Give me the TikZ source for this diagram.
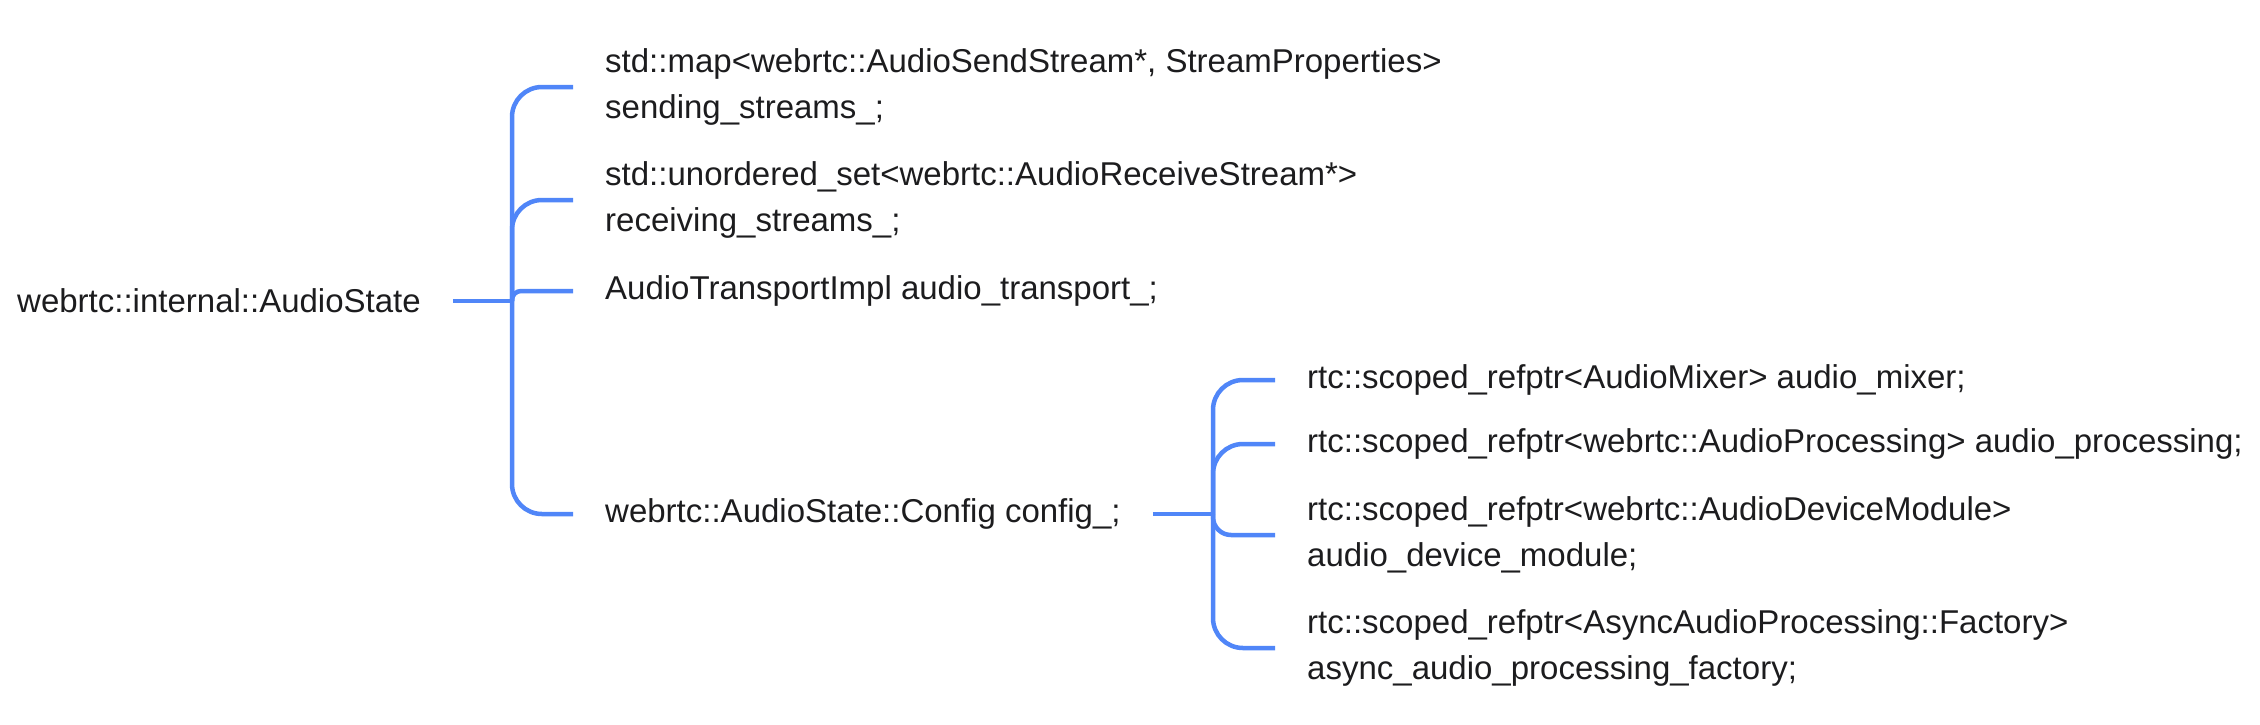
\documentclass[tikz,border=0pt]{standalone}
\usepackage{fontspec}
\setmainfont{Liberation Sans}
\definecolor{branch}{RGB}{80,134,248}
\definecolor{ink}{RGB}{28,28,30}
\tikzstyle{item} = [rectangle, anchor=west, align=left, inner xsep=32pt, inner ysep=0pt, text=ink, font=\fontsize{33}{46}\selectfont]
\tikzstyle{link} = [draw=branch, line width=4.5pt, rounded corners=30pt]

\begin{document}
\begin{tikzpicture}[x=1pt, y=-1pt]
    \useasboundingbox (0,0) rectangle (2260,724);
    % first level
    \node (root) [item] at (-15,301) {webrtc::internal::AudioState};
    \coordinate (j1) at (512,301);
    \node (send) [item] at (573,87) {std::map<webrtc::AudioSendStream*, StreamProperties>\\sending\_streams\_;};
    \node (recv) [item] at (573,200) {std::unordered\_set<webrtc::AudioReceiveStream*>\\receiving\_streams\_;};
    \node (trans) [item] at (573,291) {AudioTransportImpl audio\_transport\_;};
    \node (conf) [item] at (573,514) {webrtc::AudioState::Config config\_;};
    % second level
    \coordinate (j2) at (1213,514);
    \node (mixer) [item] at (1275,380) {rtc::scoped\_refptr<AudioMixer> audio\_mixer;};
    \node (proc) [item] at (1275,444) {rtc::scoped\_refptr<webrtc::AudioProcessing> audio\_processing;};
    \node (adm) [item] at (1275,535) {rtc::scoped\_refptr<webrtc::AudioDeviceModule>\\audio\_device\_module;};
    \node (async) [item] at (1275,648) {rtc::scoped\_refptr<AsyncAudioProcessing::Factory>\\async\_audio\_processing\_factory;};
    \draw [link] (root.east) -- (j1);
    \draw [link] (j1) |- (send.west);
    \draw [link] (j1) |- (recv.west);
    \draw [link, rounded corners=9pt] (j1) |- (trans.west);
    \draw [link] (j1) |- (conf.west);
    \draw [link] (conf.east) -- (j2);
    \draw [link] (j2) |- (mixer.west);
    \draw [link] (j2) |- (proc.west);
    \draw [link, rounded corners=18pt] (j2) |- (adm.west);
    \draw [link] (j2) |- (async.west);
\end{tikzpicture}
\end{document}
